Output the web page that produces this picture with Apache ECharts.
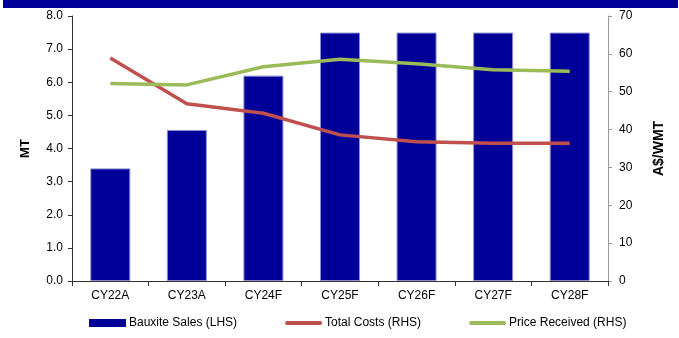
<!DOCTYPE html>
<html>
<head>
<meta charset="utf-8">
<script src="https://cdn.jsdelivr.net/npm/echarts@6/dist/echarts.min.js"></script>
<style>
html,body{margin:0;padding:0;background:#fff;}
#band{position:absolute;left:3px;top:0;width:675px;height:8px;background:#000099;}
#c{position:absolute;left:0;top:0;width:679px;height:338px;}
</style>
</head>
<body>
<div id="band"></div>
<div id="c"></div>
<script>
const categories = ['CY22A','CY23A','CY24F','CY25F','CY26F','CY27F','CY28F'];
const bauxiteSales = [3.4, 4.56, 6.2, 7.5, 7.5, 7.5, 7.5];
const totalCosts = [58.9, 46.8, 44.3, 38.6, 36.8, 36.4, 36.4];
const priceReceived = [52.2, 51.8, 56.6, 58.6, 57.4, 55.8, 55.4];
const leftTicks = {min: 0, max: 8, interval: 1};
const rightTicks = {min: 0, max: 70, interval: 10};

const font = 'Liberation Sans, Arial, sans-serif';
const lineIcon = 'path://M2,0L35,0A2,2 0 0 1 35,4L2,4A2,2 0 0 1 2,0Z';
const chart = echarts.init(document.getElementById('c'), null, {renderer: 'canvas'});
chart.setOption({
  animation: false,
  grid: {left: 72, right: 71, top: 16, bottom: 57, containLabel: false},
  legend: {
    left: 89, top: 317, padding: 0, itemGap: 48, itemWidth: 37, itemHeight: 8,
    textStyle: {fontFamily: font, fontSize: 12, color: '#000', padding: [0, 0, 0, -2]},
    data: [
      {name: 'Bauxite Sales (LHS)', icon: 'rect', itemStyle: {borderWidth: 0}},
      {name: 'Total Costs (RHS)', icon: lineIcon},
      {name: 'Price Received (RHS)', icon: lineIcon}
    ]
  },
  xAxis: {
    type: 'category', data: categories,
    axisLine: {lineStyle: {color: '#333', width: 1}},
    axisTick: {show: true, alignWithLabel: false, length: 5, lineStyle: {color: '#333'}},
    axisLabel: {fontFamily: font, fontSize: 12, color: '#000', margin: 9}
  },
  yAxis: [
    {
      type: 'value', min: leftTicks.min, max: leftTicks.max, interval: leftTicks.interval,
      name: 'MT', nameLocation: 'middle', nameRotate: 90, nameGap: 40,
      nameTextStyle: {fontFamily: font, fontSize: 13, fontWeight: 'bold', color: '#000'},
      axisLine: {show: true, lineStyle: {color: '#333'}},
      axisTick: {show: true, length: 4, lineStyle: {color: '#333'}},
      splitLine: {show: false},
      axisLabel: {fontFamily: font, fontSize: 12, color: '#000', margin: 9,
        formatter: v => v.toFixed(1)}
    },
    {
      type: 'value', min: rightTicks.min, max: rightTicks.max, interval: rightTicks.interval,
      position: 'right',
      name: 'A$/WMT', nameLocation: 'middle', nameRotate: 90, nameGap: 44,
      nameTextStyle: {fontFamily: font, fontSize: 14, fontWeight: 'bold', color: '#000'},
      axisLine: {show: true, lineStyle: {color: '#999'}},
      axisTick: {show: true, length: 4, lineStyle: {color: '#999'}},
      splitLine: {show: false},
      axisLabel: {fontFamily: font, fontSize: 12, color: '#000', margin: 11}
    }
  ],
  series: [
    {
      name: 'Bauxite Sales (LHS)', type: 'bar', data: bauxiteSales, yAxisIndex: 0,
      barWidth: 40,
      itemStyle: {color: '#000099', borderColor: '#8c8cd0', borderWidth: 1}
    },
    {
      name: 'Total Costs (RHS)', type: 'line', data: totalCosts, yAxisIndex: 1,
      symbol: 'none', lineStyle: {color: '#C0504D', width: 3.5}, itemStyle: {color: '#C0504D'}
    },
    {
      name: 'Price Received (RHS)', type: 'line', data: priceReceived, yAxisIndex: 1,
      symbol: 'none', lineStyle: {color: '#9BBB59', width: 3.5}, itemStyle: {color: '#9BBB59'}
    }
  ]
});
</script>
</body>
</html>
